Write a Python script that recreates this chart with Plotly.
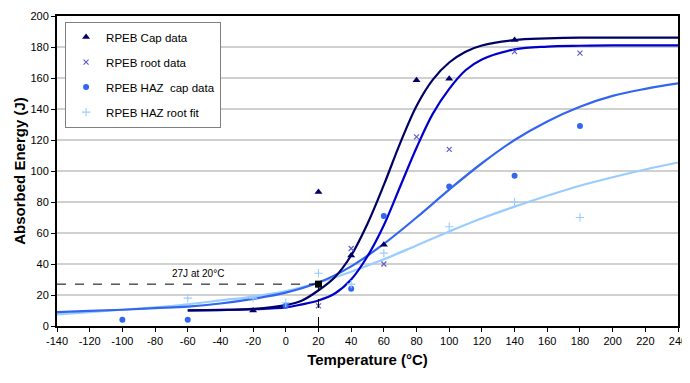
import plotly.graph_objects as go

# ---- measured data points ----
cap_T = [-20, 20, 40, 60, 80, 100, 140]
cap_E = [10, 86.5, 45.5, 52.5, 158.5, 159.5, 184.5]

root_T = [20, 40, 60, 80, 100, 140, 180]
root_E = [13, 50, 40, 122, 114, 177, 176]

haz_cap_T = [-100, -60, 0, 40, 60, 100, 140, 180]
haz_cap_E = [4, 4, 13, 24, 71, 90, 97, 129]

haz_root_T = [-60, -20, 0, 20, 40, 60, 100, 140, 180]
haz_root_E = [18, 18, 15, 34, 27, 47, 64, 80, 70]

# ---- fitted curves ----
fit_T_weld = [-60, -40, -20, 0, 10, 20, 30, 40, 50, 60, 70, 80, 90, 100, 110, 120, 140, 160, 180, 200, 240]
cap_fit = [10.1, 10.4, 11, 13.5, 16.5, 23, 31.5, 45.5, 66, 91, 118, 142, 159, 170, 177, 181, 184.5, 185.5, 186, 186, 186]
root_fit = [10, 10.3, 10.8, 12, 14, 16.5, 21, 30, 45, 65, 90, 115, 137, 153, 165, 172, 178.5, 180.3, 180.8, 181, 181]

fit_T_haz = [-140, -120, -100, -80, -60, -40, -20, 0, 20, 40, 60, 80, 100, 120, 140, 160, 180, 200, 220, 240]
haz_cap_fit = [9, 9.8, 10.5, 11.5, 12.5, 14.5, 17.5, 21.5, 28, 38.5, 53, 70, 88, 105, 120, 132, 141.5, 148.5, 153, 156.5]
haz_root_fit = [7.5, 9, 10.5, 12, 14, 16.5, 19, 22.5, 28, 35, 43, 52, 61, 69.5, 77, 84, 90.5, 96, 101, 105.5]

# ---- ticks ----
x_tick_vals = [-140, -120, -100, -80, -60, -40, -20, 0, 20, 40, 60, 80, 100, 120, 140, 160, 180, 200, 220, 240]
x_tick_text = ["-140", "-120", "-100", "-80", "-60", "-40", "-20", "0", "20", "40", "60", "80", "100", "120", "140", "160", "180", "200", "220", "240"]
y_tick_vals = [0, 20, 40, 60, 80, 100, 120, 140, 160, 180, 200]

ref_T = 20
ref_E = 27
ref_label = "27J at 20°C"
x_min, x_max = -140, 240
label_T = -54

C_CAP = "#000066"
C_ROOT = "#0000CC"
C_ROOT_MK = "#5a5acc"
C_HAZC = "#3366EE"
C_HAZR = "#99CCFF"

FONT = "Liberation Sans, Arial, sans-serif"

fig = go.Figure()

# curves
fig.add_trace(go.Scatter(x=fit_T_haz, y=haz_root_fit, mode="lines", line=dict(color=C_HAZR, width=2.2, shape="spline"), showlegend=False, hoverinfo="skip"))
fig.add_trace(go.Scatter(x=fit_T_haz, y=haz_cap_fit, mode="lines", line=dict(color=C_HAZC, width=2.2, shape="spline"), showlegend=False, hoverinfo="skip"))
fig.add_trace(go.Scatter(x=fit_T_weld, y=root_fit, mode="lines", line=dict(color=C_ROOT, width=2.2, shape="spline"), showlegend=False, hoverinfo="skip"))
fig.add_trace(go.Scatter(x=fit_T_weld, y=cap_fit, mode="lines", line=dict(color=C_CAP, width=2.2, shape="spline"), showlegend=False, hoverinfo="skip"))

# data
fig.add_trace(go.Scatter(x=cap_T, y=cap_E, mode="markers", name="RPEB Cap data", legendgroup="a",
                         marker=dict(symbol="triangle-up", size=7, color=C_CAP)))
fig.add_trace(go.Scatter(x=root_T, y=root_E, mode="markers", name="RPEB root data", legendgroup="b",
                         marker=dict(symbol="x-thin", size=5, color=C_ROOT_MK, line=dict(color=C_ROOT_MK, width=1.1))))
fig.add_trace(go.Scatter(x=haz_cap_T, y=haz_cap_E, mode="markers", name="RPEB HAZ  cap data", legendgroup="c",
                         marker=dict(symbol="circle", size=6, color=C_HAZC)))
fig.add_trace(go.Scatter(x=haz_root_T, y=haz_root_E, mode="markers", name="RPEB HAZ root fit", legendgroup="d",
                         marker=dict(symbol="cross-thin", size=6, color=C_HAZR, line=dict(color=C_HAZR, width=1.1))))

# reference point
fig.add_trace(go.Scatter(x=[ref_T], y=[ref_E], mode="markers", showlegend=False,
                         marker=dict(symbol="square", size=7, color="black")))

fig.add_shape(type="line", x0=x_min, x1=ref_T, y0=ref_E, y1=ref_E, xref="x", yref="y",
              line=dict(color="black", width=1, dash="dash"))
fig.add_shape(type="line", x0=ref_T, x1=ref_T, y0=0, y1=ref_E, xref="x", yref="y",
              line=dict(color="black", width=1, dash="dash"))
fig.add_annotation(x=label_T, y=ref_E, text=ref_label, showarrow=False,
                   yanchor="bottom", yshift=3, font=dict(family=FONT, size=10, color="black"))

# page body has an 8px default margin, so the figure is drawn 8px smaller with margins shifted
fig.update_layout(
    width=682, height=375,
    margin=dict(l=49, r=12, t=8, b=57),
    paper_bgcolor="white", plot_bgcolor="white",
    font=dict(family=FONT, size=11, color="black"),
    legend=dict(x=0.013, y=0.982, xanchor="left", yanchor="top",
                bgcolor="white", bordercolor="#808080", borderwidth=1,
                font=dict(family=FONT, size=11.5, color="black"),
                tracegroupgap=6, itemwidth=30),
    xaxis=dict(range=[x_min, x_max], tickvals=x_tick_vals, ticktext=x_tick_text, showgrid=False, zeroline=False,
               showline=True, linecolor="black", linewidth=2, mirror=True, automargin=False,
               ticks="outside", ticklen=4, tickcolor="black",
               tickfont=dict(family=FONT, size=11),
               title=dict(text="Temperature (°C)", font=dict(family=FONT, size=15, weight="bold"), standoff=8)),
    yaxis=dict(range=[0, 200], tickvals=y_tick_vals, showgrid=True, gridcolor="#d0d0d0", gridwidth=1.5, zeroline=False,
               showline=True, linecolor="black", linewidth=2, mirror=True, automargin=False,
               ticks="outside", ticklen=4, tickcolor="black",
               tickfont=dict(family=FONT, size=11),
               title=dict(text="Absorbed Energy (J)", font=dict(family=FONT, size=15, weight="bold"), standoff=1)),
)

fig.write_html("out.html")
